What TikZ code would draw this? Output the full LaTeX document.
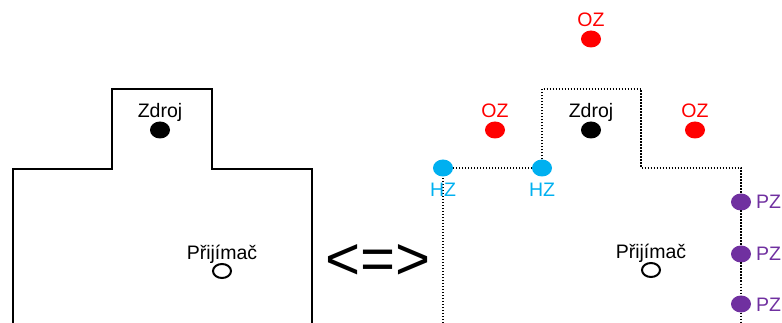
\documentclass[tikz,border=0pt]{standalone}
\usepackage{fontspec}
\setmainfont{Liberation Sans}
\usepackage{tikz}
\usetikzlibrary{positioning,shapes.geometric}

\begin{document}
\begin{tikzpicture}[x=1pt,y=-1pt,
  dot/.style={ellipse,fill,inner sep=0pt,outer sep=0pt,minimum width=20pt,minimum height=17pt},
  rx/.style={ellipse,draw,line width=2pt,inner sep=0pt,outer sep=0pt,minimum width=18pt,minimum height=14pt},
  lbl/.style={inner sep=0pt,text height=14pt,text depth=0pt,font=\fontsize{19.5}{20}\selectfont},
  wall/.style={line width=1.3pt},
  zone/.style={line width=1.2pt,dash pattern=on 1.2pt off 1.8pt}]
\definecolor{ozred}{HTML}{FF0000}
\definecolor{hzblue}{HTML}{00B0F0}
\definecolor{pzviolet}{HTML}{7030A0}
\useasboundingbox (0,0) rectangle (782,323);

% Left room - solid walls
\draw[wall] (13,323) |- (112,169) |- (212,89) |- (312,169) -- (312,323);
\node[dot] (zdrojL) at (160,130) {};
\node[lbl,above=3.5pt of zdrojL] (zdrojLt) {Zdroj};
\node[rx] (prijL) at (222,271) {};
\node[lbl,above=4pt of prijL] (prijLt) {Přijímač};

% Equivalence sign
\node[font=\fontsize{60}{60}\selectfont,inner sep=0pt] (equiv) at (378,262) {<=>};

% Right room - image sources
\node[dot,ozred] (ozT) at (591,39) {};
\node[dot,ozred] (ozL) at (495,130) {};
\node[dot] (zdrojR) at (591,130) {};
\node[dot,ozred] (ozR) at (695,130) {};
\node[dot,hzblue] (hz1) at (443,168) {};
\node[dot,hzblue] (hz2) at (542,168) {};
\foreach \n/\y in {1/202,2/254,3/304} {
  \node[dot,pzviolet] (pz\n) at (741,\y) {};
}
\node[rx] (prijR) at (651,270) {};

% Dotted walls through the image sources
\coordinate (botL) at (443,323);
\coordinate (topR) at (641,89);
\coordinate (turnR) at (741,168);
\coordinate (botR) at (741,323);
\draw[zone] (botL) -- (hz1) -- (hz2) |- (topR) |- (turnR) -- (pz1) -- (pz2) -- (pz3) -- (botR);

% Labels
\node[lbl,ozred,above=3.5pt of ozT] (ozTt) {OZ};
\node[lbl,ozred,above=3.5pt of ozL] (ozLt) {OZ};
\node[lbl,above=3.5pt of zdrojR] (zdrojRt) {Zdroj};
\node[lbl,ozred,above=3.5pt of ozR] (ozRt) {OZ};
\node[lbl,hzblue,below=6pt of hz1] (hz1t) {HZ};
\node[lbl,hzblue,below=6pt of hz2] (hz2t) {HZ};
\foreach \n in {1,2,3} {
  \node[lbl,pzviolet,right=5pt of pz\n] (pz\n t) {PZ};
}
\node[lbl,above=4pt of prijR] (prijRt) {Přijímač};
\end{tikzpicture}
\end{document}
